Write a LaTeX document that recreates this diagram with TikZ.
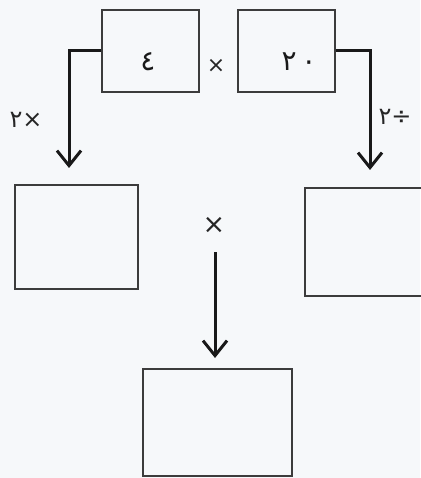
\documentclass[tikz,border=0pt]{standalone}
\usepackage{fontspec}
\newfontfamily\arabicfont[Script=Arabic]{DejaVu Sans}
\usetikzlibrary{arrows.meta}
\definecolor{bg}{RGB}{246,248,250}
\definecolor{boxline}{RGB}{60,60,60}
\begin{document}
\begin{tikzpicture}[x=1pt,y=-1pt,
  box/.style={draw=boxline,line width=1.5pt,rectangle,inner sep=0pt},
  conn/.style={line width=3pt,black!90,-{Straight Barb[length=15pt,width=24pt]}},
  num/.style={font=\arabicfont\fontsize{28}{30}\selectfont,inner sep=0pt,text=black!90},
  oplabel/.style={font=\arabicfont\fontsize{24}{26}\selectfont,inner sep=0pt,text=black!85}]
\fill[bg] (0,0) rectangle (420,478);
\useasboundingbox (0,0) rectangle (420,478);
% top boxes
\node[box,minimum width=97pt,minimum height=82pt] (b1) at (150.5,51) {};
\node[box,minimum width=97pt,minimum height=82pt] (b2) at (286.5,51) {};
\node[num] (t1) at (148,62) {٤};
\node[num] (t2) at (299,62) {٢\,٠};
\node[oplabel,font=\arabicfont\fontsize{22}{24}\selectfont] (x1) at (216,66) {×};
% middle boxes
\node[box,minimum width=123pt,minimum height=104pt] (m1) at (76.5,237) {};
\node[box,minimum width=135pt,minimum height=108pt] (m2) at (372.5,242) {};
\node[oplabel,font=\arabicfont\fontsize{27}{29}\selectfont] (x2) at (214,225) {×};
% bottom box
\node[box,minimum width=149pt,minimum height=107pt] (m3) at (217.5,422.5) {};
% labels
\node[oplabel] (l1) at (26,120) {×٢};
\node[oplabel] (l2) at (395,117) {÷٢};
% connectors
\coordinate (e1) at (69,168);
\coordinate (e2) at (370,170);
\coordinate (s3) at (215,252);
\coordinate (e3) at (215,358);
\draw[conn] (b1.west) -| (e1);
\draw[conn] (b2.east) -| (e2);
\draw[conn] (s3) -- (e3);
\end{tikzpicture}
\end{document}
